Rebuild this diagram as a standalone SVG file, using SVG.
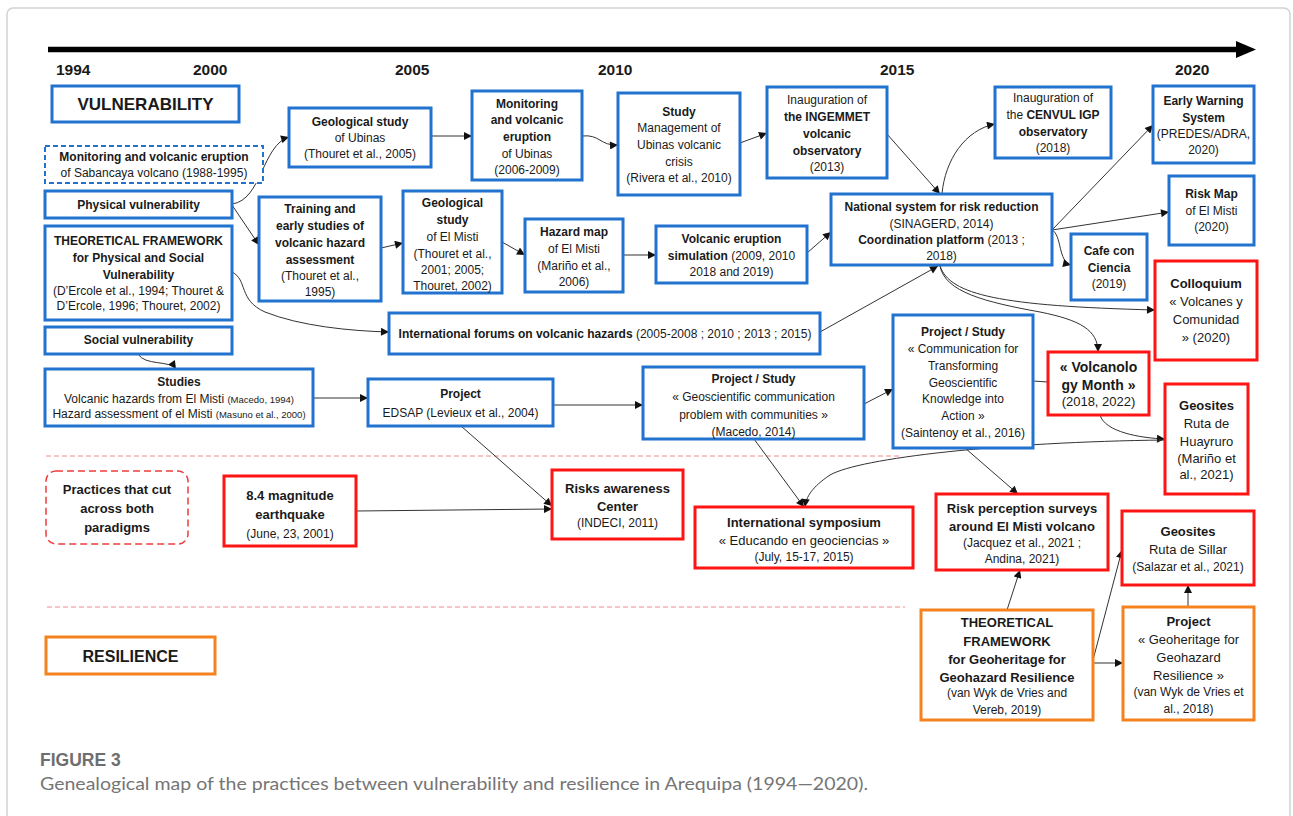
<svg xmlns="http://www.w3.org/2000/svg" width="1293" height="816" viewBox="0 0 1293 816">
<style>
.b{fill:#fff;stroke:#2272CF;stroke-width:3}
.bd2{fill:#fff;stroke:#2272CF;stroke-width:2;stroke-dasharray:5 3}
.r{fill:#fff;stroke:#FF1414;stroke-width:3}
.rd{fill:#fff;stroke:#F03C3C;stroke-width:1.5;stroke-dasharray:7 4}
.o{fill:#fff;stroke:#F5821F;stroke-width:3}
text{font-family:'Liberation Sans',Arial,sans-serif;fill:#1a1a1a;text-anchor:middle}
.t{font-size:12px}
.t2{font-size:13px}
.bf{font-weight:bold}
.sm{font-size:9.5px}
.yr{font-size:15.5px;font-weight:bold;text-anchor:start}
.c{fill:none;stroke:#333;stroke-width:1;marker-end:url(#ah)}
.cn{fill:none;stroke:#333;stroke-width:1}
.sep{stroke:#F08A8A;stroke-width:1;stroke-dasharray:5 3}
</style>
<defs>
<marker id="ah" viewBox="0 0 10 10" refX="10" refY="5" markerUnits="userSpaceOnUse" markerWidth="9" markerHeight="8" orient="auto">
<path d="M0,0 L10,5 L0,10 z" fill="#111"/>
</marker>
</defs>
<rect x="0" y="0" width="1293" height="816" fill="#fff"/>
<rect x="7" y="8" width="1283" height="830" rx="6" fill="none" stroke="#d2d2d2" stroke-width="1.5"/>

<g id="timeline">
<line x1="48" y1="49.5" x2="1238" y2="49.5" stroke="#000" stroke-width="5.5"/>
<polygon points="1236,41 1256,49.5 1236,58" fill="#000"/>
<text class="yr" x="56" y="75">1994</text>
<text class="yr" x="193" y="75">2000</text>
<text class="yr" x="395" y="75">2005</text>
<text class="yr" x="598" y="75">2010</text>
<text class="yr" x="880" y="75">2015</text>
<text class="yr" x="1175" y="75">2020</text>
</g>

<g id="separators">
<line class="sep" x1="46" y1="456" x2="900" y2="456"/>
<line class="sep" x1="47" y1="607" x2="905" y2="607"/>
</g>

<g id="connectors">
<path class="c" d="M232,204 C262,200 262,145 289,137"/>
<path class="c" d="M232,205 L259,245"/>
<path class="c" d="M232,272 C248,280 238,300 265,312 C300,326 350,331 389,332"/>
<path class="c" d="M138,354 C145,366 170,360 176,369"/>
<path class="c" d="M431,136 L472,136"/>
<path class="c" d="M582,136 C600,134 600,146 618,145"/>
<path class="c" d="M740,143 L767,133"/>
<path class="c" d="M887,134 L940,194"/>
<path class="c" d="M942,194 C945,160 965,130 995,124"/>
<path class="c" d="M381,248 L403,243"/>
<path class="c" d="M502,242 L525,255"/>
<path class="c" d="M623,255 L656,255"/>
<path class="c" d="M807,253 L831,232"/>
<path class="c" d="M820,332 L938,266"/>
<path class="c" d="M1052,230 L1153,125"/>
<path class="c" d="M1052,230 L1169,212"/>
<path class="c" d="M1052,230 C1062,235 1058,262 1071,265"/>
<path class="c" d="M940,266 C950,295 1000,306 1155,310"/>
<path class="c" d="M940,266 C945,292 985,302 1040,312 C1080,320 1098,330 1098,352"/>
<path class="c" d="M313,398 L368,398"/>
<path class="c" d="M553,405 L643,405"/>
<path class="c" d="M864,404 L893,389"/>
<path class="cn" d="M1033,381 L1048,382"/>
<path class="c" d="M1100,415 C1105,432 1140,438 1165,439"/>
<path class="c" d="M1165,440 C1000,442 860,458 830,475 C812,487 806,497 805,507"/>
<path class="c" d="M754,439 L804,507"/>
<path class="c" d="M356,511 L552,509"/>
<path class="c" d="M461,426 L552,506"/>
<path class="c" d="M965,448 L1018,494"/>
<path class="c" d="M1007,610 L1020,570"/>
<path class="c" d="M1093,660 L1122,550"/>
<path class="c" d="M1093,663 L1123,663"/>
<path class="c" d="M1188,607 L1188,585"/>
</g>

<g id="vulnerability-label">
<rect class="b" x="52" y="86" width="187" height="36"/>
<text class="bf" style="font-size:17px" x="145.5" y="110">VULNERABILITY</text>
</g>

<g id="sabancaya">
<rect class="bd2" x="45" y="146" width="218" height="37"/>
<text class="t bf" x="154" y="161">Monitoring and volcanic eruption</text>
<text class="t" x="154" y="177">of Sabancaya volcano (1988-1995)</text>
</g>

<g id="physical">
<rect class="b" x="45" y="191" width="187" height="27"/>
<text class="t bf" x="138.5" y="209">Physical vulnerability</text>
</g>

<g id="theo-vuln">
<rect class="b" x="45" y="226" width="187" height="94"/>
<text class="t bf" x="138.5" y="245">THEORETICAL FRAMEWORK</text>
<text class="t bf" x="138.5" y="262">for Physical and Social</text>
<text class="t bf" x="138.5" y="279">Vulnerability</text>
<text class="t" x="138.5" y="295">(D’Ercole et al., 1994; Thouret &amp;</text>
<text class="t" x="138.5" y="310">D’Ercole, 1996; Thouret, 2002)</text>
</g>

<g id="social">
<rect class="b" x="45" y="327" width="187" height="27"/>
<text class="t bf" x="138.5" y="344">Social vulnerability</text>
</g>

<g id="studies">
<rect class="b" x="45" y="369" width="268" height="57"/>
<text class="t bf" x="179" y="386">Studies</text>
<text class="t" x="179" y="403">Volcanic hazards from El Misti <tspan class="sm">(Macedo, 1994)</tspan></text>
<text class="t" x="179" y="418">Hazard assessment of el Misti <tspan class="sm">(Masuno et al., 2000)</tspan></text>
</g>

<g id="geo-ubinas">
<rect class="b" x="289" y="108" width="142" height="59"/>
<text class="t bf" x="360" y="126">Geological study</text>
<text class="t" x="360" y="142">of Ubinas</text>
<text class="t" x="360" y="158">(Thouret et al., 2005)</text>
</g>

<g id="mon-ubinas">
<rect class="b" x="472" y="91" width="110" height="89"/>
<text class="t bf" x="527" y="108">Monitoring</text>
<text class="t bf" x="527" y="124">and volcanic</text>
<text class="t bf" x="527" y="141">eruption</text>
<text class="t" x="527" y="158">of Ubinas</text>
<text class="t" x="527" y="174">(2006-2009)</text>
</g>

<g id="study-mgmt">
<rect class="b" x="618" y="93" width="122" height="102"/>
<text class="t bf" x="679" y="116">Study</text>
<text class="t" x="679" y="132">Management of</text>
<text class="t" x="679" y="149">Ubinas volcanic</text>
<text class="t" x="679" y="166">crisis</text>
<text class="t" x="679" y="182">(Rivera et al., 2010)</text>
</g>

<g id="ingemmet">
<rect class="b" x="767" y="87" width="120" height="91"/>
<text class="t" x="827" y="104">Inauguration of</text>
<text class="t bf" x="827" y="121">the INGEMMET</text>
<text class="t bf" x="827" y="138">volcanic</text>
<text class="t bf" x="827" y="155">observatory</text>
<text class="t" x="827" y="171">(2013)</text>
</g>

<g id="national">
<rect class="b" x="831" y="194" width="221" height="71"/>
<text class="t bf" x="941.5" y="211">National system for risk reduction</text>
<text class="t" x="941.5" y="228">(SINAGERD, 2014)</text>
<text class="t" x="941.5" y="244"><tspan class="bf">Coordination platform</tspan> (2013 ;</text>
<text class="t" x="941.5" y="260">2018)</text>
</g>

<g id="cenvul">
<rect class="b" x="995" y="87" width="116" height="71"/>
<text class="t" x="1053" y="102">Inauguration of</text>
<text class="t" x="1053" y="119">the <tspan class="bf">CENVUL IGP</tspan></text>
<text class="t bf" x="1053" y="136">observatory</text>
<text class="t" x="1053" y="152">(2018)</text>
</g>

<g id="early-warning">
<rect class="b" x="1153" y="86" width="101" height="77"/>
<text class="t bf" x="1203.5" y="105">Early Warning</text>
<text class="t bf" x="1203.5" y="122">System</text>
<text class="t" x="1203.5" y="138">(PREDES/ADRA,</text>
<text class="t" x="1203.5" y="154">2020)</text>
</g>

<g id="risk-map">
<rect class="b" x="1169" y="176" width="85" height="69"/>
<text class="t bf" x="1211.5" y="198">Risk Map</text>
<text class="t" x="1211.5" y="215">of El Misti</text>
<text class="t" x="1211.5" y="231">(2020)</text>
</g>

<g id="cafe">
<rect class="b" x="1071" y="234" width="76" height="66"/>
<text class="t bf" x="1109" y="255">Cafe con</text>
<text class="t bf" x="1109" y="272">Ciencia</text>
<text class="t" x="1109" y="288">(2019)</text>
</g>

<g id="colloquium">
<rect class="r" x="1155" y="261" width="102" height="99"/>
<text class="t2 bf" x="1206" y="288">Colloquium</text>
<text class="t2" x="1206" y="306">« Volcanes y</text>
<text class="t2" x="1206" y="324">Comunidad</text>
<text class="t2" x="1206" y="342">» (2020)</text>
</g>

<g id="training">
<rect class="b" x="259" y="197" width="122" height="104"/>
<text class="t bf" x="320" y="213">Training and</text>
<text class="t bf" x="320" y="230">early studies of</text>
<text class="t bf" x="320" y="247">volcanic hazard</text>
<text class="t bf" x="320" y="264">assessment</text>
<text class="t" x="320" y="280">(Thouret et al.,</text>
<text class="t" x="320" y="296">1995)</text>
</g>

<g id="geo-misti">
<rect class="b" x="403" y="191" width="99" height="102"/>
<text class="t bf" x="452.5" y="207">Geological</text>
<text class="t bf" x="452.5" y="224">study</text>
<text class="t" x="452.5" y="241">of El Misti</text>
<text class="t" x="452.5" y="258">(Thouret et al.,</text>
<text class="t" x="452.5" y="274">2001; 2005;</text>
<text class="t" x="452.5" y="290">Thouret, 2002)</text>
</g>

<g id="hazard-map">
<rect class="b" x="525" y="219" width="98" height="73"/>
<text class="t bf" x="574" y="236">Hazard map</text>
<text class="t" x="574" y="253">of El Misti</text>
<text class="t" x="574" y="270">(Mariño et al.,</text>
<text class="t" x="574" y="286">2006)</text>
</g>

<g id="simulation">
<rect class="b" x="656" y="226" width="151" height="57"/>
<text class="t bf" x="731.5" y="243">Volcanic eruption</text>
<text class="t" x="731.5" y="260"><tspan class="bf">simulation</tspan> (2009, 2010</text>
<text class="t" x="731.5" y="276">2018 and 2019)</text>
</g>

<g id="forums">
<rect class="b" x="389" y="313" width="431" height="41"/>
<text class="t" x="605" y="338"><tspan class="bf">International forums on volcanic hazards</tspan> (2005-2008 ; 2010 ; 2013 ; 2015)</text>
</g>

<g id="edsap">
<rect class="b" x="368" y="379" width="185" height="47"/>
<text class="t bf" x="460.5" y="398">Project</text>
<text class="t" x="460.5" y="417">EDSAP (Levieux et al., 2004)</text>
</g>

<g id="geo-comm">
<rect class="b" x="643" y="367" width="221" height="72"/>
<text class="t bf" x="753.5" y="383">Project / Study</text>
<text class="t" x="753.5" y="401">« Geoscientific communication</text>
<text class="t" x="753.5" y="419">problem with communities »</text>
<text class="t" x="753.5" y="436">(Macedo, 2014)</text>
</g>

<g id="comm-action">
<rect class="b" x="893" y="315" width="140" height="133"/>
<text class="t bf" x="963" y="336">Project / Study</text>
<text class="t" x="963" y="353">« Communication for</text>
<text class="t" x="963" y="370">Transforming</text>
<text class="t" x="963" y="387">Geoscientific</text>
<text class="t" x="963" y="403">Knowledge into</text>
<text class="t" x="963" y="420">Action »</text>
<text class="t" x="963" y="437">(Saintenoy et al., 2016)</text>
</g>

<g id="volc-month">
<rect class="r" x="1048" y="352" width="101" height="63"/>
<text class="t2 bf" style="font-size:14px" x="1098.5" y="372">« Volcanolo</text>
<text class="t2 bf" style="font-size:14px" x="1098.5" y="390">gy Month »</text>
<text class="t2" x="1098.5" y="406">(2018, 2022)</text>
</g>

<g id="huayruro">
<rect class="r" x="1165" y="384" width="83" height="110"/>
<text class="t2 bf" x="1206.5" y="410">Geosites</text>
<text class="t2" x="1206.5" y="428">Ruta de</text>
<text class="t2" x="1206.5" y="446">Huayruro</text>
<text class="t2" x="1206.5" y="463">(Mariño et</text>
<text class="t2" x="1206.5" y="479">al., 2021)</text>
</g>

<g id="practices">
<rect class="rd" x="46" y="471" width="142" height="73" rx="10"/>
<text class="t2 bf" x="117" y="494">Practices that cut</text>
<text class="t2 bf" x="117" y="513">across both</text>
<text class="t2 bf" x="117" y="532">paradigms</text>
</g>

<g id="earthquake">
<rect class="r" x="224" y="476" width="132" height="70"/>
<text class="t2 bf" x="290" y="500">8.4 magnitude</text>
<text class="t2 bf" x="290" y="519">earthquake</text>
<text class="t" x="290" y="538">(June, 23, 2001)</text>
</g>

<g id="risks-center">
<rect class="r" x="552" y="470" width="131" height="69"/>
<text class="t2 bf" x="617.5" y="493">Risks awareness</text>
<text class="t2 bf" x="617.5" y="511">Center</text>
<text class="t" x="617.5" y="527">(INDECI, 2011)</text>
</g>

<g id="symposium">
<rect class="r" x="695" y="507" width="218" height="61"/>
<text class="t2 bf" x="804" y="527">International symposium</text>
<text class="t2" x="804" y="545">« Educando en geociencias »</text>
<text class="t" x="804" y="561">(July, 15-17, 2015)</text>
</g>

<g id="risk-perception">
<rect class="r" x="936" y="494" width="172" height="76"/>
<text class="t2 bf" x="1022" y="513">Risk perception surveys</text>
<text class="t2 bf" x="1022" y="531">around El Misti volcano</text>
<text class="t" x="1022" y="547">(Jacquez et al., 2021 ;</text>
<text class="t" x="1022" y="563">Andina, 2021)</text>
</g>

<g id="sillar">
<rect class="r" x="1122" y="511" width="132" height="74"/>
<text class="t2 bf" x="1188" y="536">Geosites</text>
<text class="t2" x="1188" y="554">Ruta de Sillar</text>
<text class="t" x="1188" y="571">(Salazar et al., 2021)</text>
</g>

<g id="theo-geo">
<rect class="o" x="921" y="610" width="172" height="110"/>
<text class="t2 bf" x="1007" y="627">THEORETICAL</text>
<text class="t2 bf" x="1007" y="646">FRAMEWORK</text>
<text class="t2 bf" x="1007" y="664">for Geoheritage for</text>
<text class="t2 bf" x="1007" y="682">Geohazard Resilience</text>
<text class="t" x="1007" y="697">(van Wyk de Vries and</text>
<text class="t" x="1007" y="714">Vereb, 2019)</text>
</g>

<g id="project-geo">
<rect class="o" x="1123" y="607" width="131" height="113"/>
<text class="t2 bf" x="1188.5" y="626">Project</text>
<text class="t2" x="1188.5" y="644">« Geoheritage for</text>
<text class="t2" x="1188.5" y="662">Geohazard</text>
<text class="t2" x="1188.5" y="680">Resilience »</text>
<text class="t" x="1188.5" y="696">(van Wyk de Vries et</text>
<text class="t" x="1188.5" y="713">al., 2018)</text>
</g>

<g id="resilience-label">
<rect class="o" x="46" y="637" width="169" height="37"/>
<text class="bf" style="font-size:16px" x="130.5" y="662">RESILIENCE</text>
</g>

<g id="caption">
<text x="40" y="766" style="font-size:17.5px;font-weight:bold;fill:#6e6e6e;text-anchor:start">FIGURE 3</text>
<text x="40" y="790" textLength="828" lengthAdjust="spacingAndGlyphs" style="font-family:Lato,'Liberation Sans',sans-serif;font-size:17px;fill:#757575;text-anchor:start">Genealogical map of the practices between vulnerability and resilience in Arequipa (1994—2020).</text>
</g>
</svg>
